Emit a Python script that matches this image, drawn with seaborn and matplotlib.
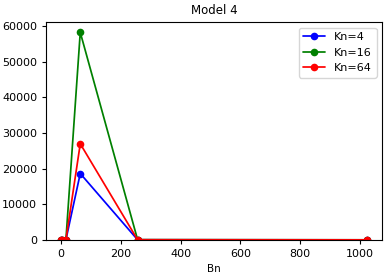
import pandas as pd
import matplotlib
matplotlib.use('Agg')
import matplotlib.pyplot as plt
import seaborn as sns

# Data
bn = [1, 4, 16, 64, 256, 1024]
kn4 = [2, 8, 60, 18650, 40, 15]
kn16 = [3, 12, 110, 58300, 70, 25]
kn64 = [2, 10, 90, 27000, 50, 20]
labels = ['Kn=4', 'Kn=16', 'Kn=64']

df = pd.DataFrame({'Bn': bn * 3,
                   'value': kn4 + kn16 + kn64,
                   'Kn': sum([[l] * len(bn) for l in labels], [])})

sns.set_style('ticks', {'axes.edgecolor': 'black', 'text.color': 'black',
                        'xtick.color': 'black', 'ytick.color': 'black',
                        'axes.labelcolor': 'black'})
plt.rcParams['font.family'] = ['DejaVu Sans']
plt.rcParams['font.size'] = 8

fig = plt.figure(figsize=(3.88, 2.78), dpi=100)
ax = fig.add_axes([0.119, 0.137, 0.866, 0.784])
sns.lineplot(data=df, x='Bn', y='value', hue='Kn', palette=['blue', 'green', 'red'],
             marker='o', markersize=5.5, markeredgewidth=0, linewidth=1.25, ax=ax)
ax.set_ylim(bottom=0)
ax.set_title('Model 4', fontsize=8.5)
ax.set_xlabel('Bn', fontsize=7.5)
ax.set_ylabel('')
ax.tick_params(labelsize=8, width=0.8, length=3)
for s in ax.spines.values():
    s.set_linewidth(0.8)
leg = ax.legend(loc='upper right', fontsize=8)
leg.set_title(None)
fig.savefig('out.png', dpi=100)
